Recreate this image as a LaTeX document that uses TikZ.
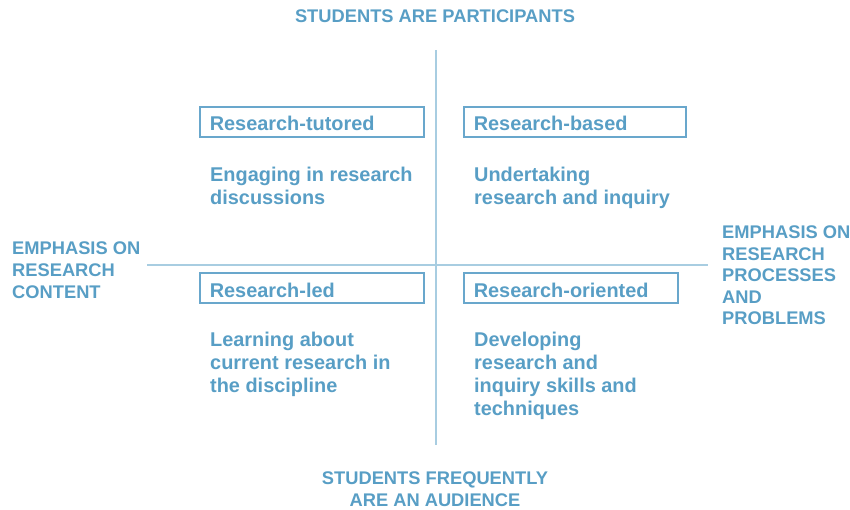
\documentclass[tikz,border=0pt]{standalone}
\usepackage{fontspec}
\setmainfont{Liberation Sans}
\definecolor{txt}{RGB}{88,158,197}
\definecolor{axis}{RGB}{168,205,225}
\definecolor{boxc}{RGB}{105,167,204}
\tikzset{
  axisline/.style={draw=axis, line width=1.8pt},
  caps/.style={text=txt, font=\bfseries\fontsize{18.3}{21.6}\selectfont, inner sep=0pt},
  body/.style={text=txt, font=\bfseries\fontsize{19.9}{23}\selectfont, inner sep=0pt, align=left, anchor=north west},
  labelbox/.style={draw=boxc, line width=1.6pt, text=txt, font=\bfseries\fontsize{19.9}{23}\selectfont, inner xsep=10pt, inner ysep=0pt, minimum height=30pt, align=left, text height=18pt, text depth=0pt, anchor=west}
}
\begin{document}
\begin{tikzpicture}[x=1pt,y=-1pt]
\useasboundingbox (0,0) rectangle (850,510);
\coordinate (vt) at (436,50);
\coordinate (vb) at (436,445);
\coordinate (hl) at (147,265);
\coordinate (hr) at (708,265);
\draw[axisline] (vt) -- (vb);
\draw[axisline] (hl) -- (hr);

\node[caps, anchor=base] (top) at (435,22.5) {STUDENTS ARE PARTICIPANTS};
\node[caps, anchor=north, align=center] (bot) at (435,471.5) {STUDENTS FREQUENTLY\\ARE AN AUDIENCE};
\node[caps, anchor=north west, align=left] (left) at (12,242) {EMPHASIS ON\\RESEARCH\\CONTENT};
\node[caps, anchor=north west, align=left] (right) at (722,225.5) {EMPHASIS ON\\RESEARCH\\PROCESSES\\AND\\PROBLEMS};

\node[labelbox, text width=204pt] (b1) at (199,122) {Research-tutored};
\node[labelbox, text width=202pt] (b2) at (463,122) {Research-based};
\node[labelbox, text width=204pt] (b3) at (199,288) {Research-led};
\node[labelbox, text width=194pt] (b4) at (463,288) {Research-oriented};

\node[body] (t1) at (210,166.8) {Engaging in research\\discussions};
\node[body] (t2) at (474,166.8) {Undertaking\\research and inquiry};
\node[body] (t3) at (210,331.8) {Learning about\\current research in\\the discipline};
\node[body] (t4) at (474,331.8) {Developing\\research and\\inquiry skills and\\techniques};
\end{tikzpicture}
\end{document}
